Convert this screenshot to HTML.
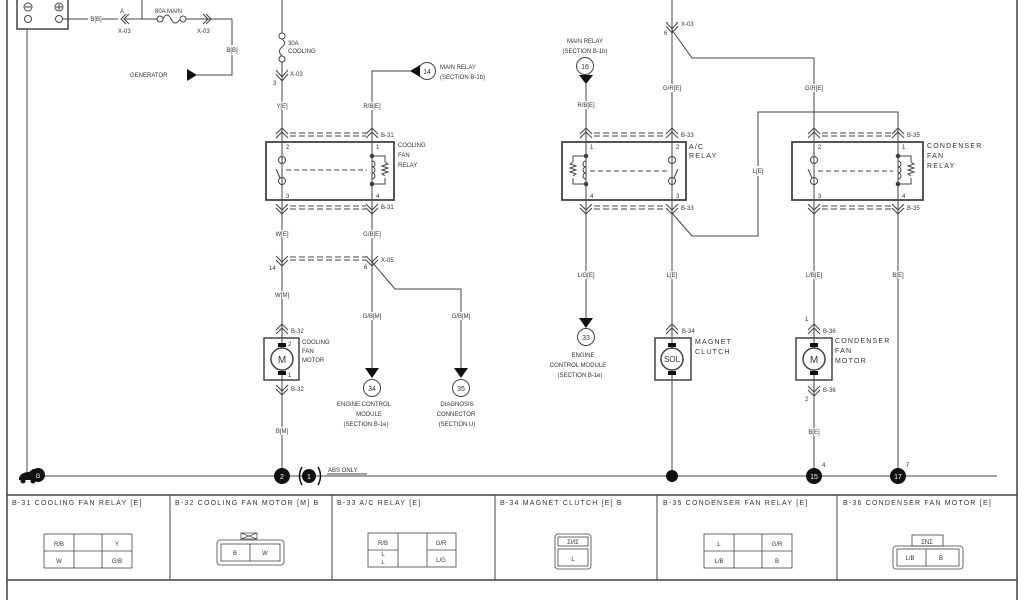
<!DOCTYPE html>
<html><head><meta charset="utf-8"><style>
html,body{margin:0;padding:0;background:#fff;width:1024px;height:600px;overflow:hidden}
svg{display:block}
text{font-family:"Liberation Sans",sans-serif;fill:#333}
.s{font-size:6px}
.m{font-size:7px}
.l{font-size:7.5px;letter-spacing:1px}
.h{font-size:7px;letter-spacing:1.2px}
</style></head><body>
<svg width="1024" height="600" viewBox="0 0 1024 600" xmlns="http://www.w3.org/2000/svg">
<g stroke="#444" fill="none" stroke-width="1">
<line x1="7" y1="0" x2="7" y2="600" stroke-width="1.5"/>
<line x1="1017" y1="0" x2="1017" y2="600" stroke-width="1.5"/>
<rect x="17" y="-2" width="51" height="31" stroke-width="1.5"/>
<circle cx="28" cy="7" r="4"/><line x1="25" y1="7" x2="31" y2="7"/>
<circle cx="59" cy="7" r="4"/><line x1="56" y1="7" x2="62" y2="7"/><line x1="59" y1="4" x2="59" y2="10"/>
<circle cx="28" cy="19" r="3.5"/><circle cx="59" cy="19" r="3.5"/>
<line x1="27" y1="29" x2="27" y2="476"/>
<line x1="62" y1="19" x2="88" y2="19"/><line x1="102" y1="19" x2="118" y2="19"/>
<polyline points="126,14 121,19 126,24"/><polyline points="129,14 124,19 129,24"/>
<line x1="124" y1="19" x2="157" y2="19"/>
<line x1="142" y1="0" x2="142" y2="19"/>
<circle cx="160" cy="19" r="3"/><circle cx="183" cy="19" r="3"/>
<path d="M163,19 q4,-8 8,0 q4,8 9,0"/>
<line x1="186" y1="19" x2="232" y2="19"/>
<polyline points="203,14 208,19 203,24"/><polyline points="206,14 211,19 206,24"/>
<polyline points="232,19 232,45"/><polyline points="232,55 232,75 197,75"/>
<line x1="282" y1="0" x2="282" y2="33"/>
<circle cx="282" cy="36" r="3"/><circle cx="282" cy="59" r="3"/>
<path d="M282,39 q5,4 0,8 q-5,4 0,9"/>
<line x1="282" y1="62" x2="282" y2="102"/>
<polyline points="276,70 282,77 288,70"/><polyline points="276,74 282,81 288,74"/>
<line x1="282" y1="110" x2="282" y2="230"/>
<line x1="282" y1="238" x2="282" y2="291"/>
<line x1="282" y1="299" x2="282" y2="427"/>
<line x1="282" y1="435" x2="282" y2="476"/>
<polyline points="420,71 372,71 372,102"/>
<line x1="372" y1="110" x2="372" y2="230"/>
<line x1="372" y1="238" x2="372" y2="312"/>
<line x1="372" y1="320" x2="372" y2="368"/>
<polyline points="372,262 395,289 461,289 461,312"/>
<line x1="461" y1="320" x2="461" y2="368"/>
<rect x="266" y="142" width="128" height="58" stroke-width="1.8"/>
<line x1="586" y1="83" x2="586" y2="101"/><line x1="586" y1="109" x2="586" y2="271"/><line x1="586" y1="279" x2="586" y2="318"/>
<line x1="672" y1="0" x2="672" y2="84"/><line x1="672" y1="92" x2="672" y2="271"/><line x1="672" y1="279" x2="672" y2="476"/>
<polyline points="666,22 672,29 678,22"/><polyline points="666,26 672,33 678,26"/>
<polyline points="672,30 692,58 814,58 814,84"/>
<line x1="814" y1="92" x2="814" y2="271"/><line x1="814" y1="279" x2="814" y2="428"/><line x1="814" y1="436" x2="814" y2="476"/>
<polyline points="672,213 692,236 758,236 758,176"/><polyline points="758,166 758,112 898,112 898,271"/>
<line x1="898" y1="279" x2="898" y2="476"/>
<rect x="562" y="142" width="124" height="58" stroke-width="1.8"/>
<rect x="792" y="142" width="131" height="58" stroke-width="1.8"/>
<line x1="35" y1="476" x2="997" y2="476"/>
<rect x="264" y="338" width="35" height="42" stroke-width="1.5"/>
<rect x="655" y="338" width="36" height="42" stroke-width="1.5"/>
<rect x="796" y="338" width="36" height="42" stroke-width="1.5"/>
<circle cx="282" cy="359" r="11" stroke-width="1.5" fill="#fff"/>
<circle cx="672" cy="359" r="11" stroke-width="1.5" fill="#fff"/>
<circle cx="814" cy="359" r="11" stroke-width="1.5" fill="#fff"/>
<circle cx="427" cy="71" r="8.5"/><circle cx="585" cy="66" r="8.5"/>
<circle cx="586" cy="337" r="8.5"/><circle cx="372" cy="388" r="8.5"/><circle cx="461" cy="388" r="8.5"/>
<line x1="7" y1="495" x2="1017" y2="495" stroke-width="1.5"/>
<line x1="7" y1="580" x2="1017" y2="580" stroke-width="1.5"/>
<line x1="170" y1="495" x2="170" y2="580"/><line x1="332" y1="495" x2="332" y2="580"/>
<line x1="495" y1="495" x2="495" y2="580"/><line x1="657" y1="495" x2="657" y2="580"/><line x1="837" y1="495" x2="837" y2="580"/>
<g stroke-width="0.8">
<rect x="44" y="534" width="88" height="34"/><line x1="74" y1="534" x2="74" y2="568"/><line x1="102" y1="534" x2="102" y2="568"/><line x1="44" y1="551" x2="132" y2="551"/>
<rect x="217" y="540" width="67" height="25" rx="3"/><rect x="221" y="544" width="59" height="17"/><line x1="250" y1="544" x2="250" y2="561"/>
<path d="M241,533 h16 v6 h-16 z M241,533 l16,6 M257,533 l-16,6"/>
<rect x="368" y="533" width="88" height="34"/><line x1="398" y1="533" x2="398" y2="567"/><line x1="427" y1="533" x2="427" y2="567"/><line x1="368" y1="550" x2="398" y2="550"/><line x1="427" y1="550" x2="456" y2="550"/>
<rect x="555" y="534" width="36" height="35" rx="3"/><rect x="558" y="549" width="30" height="17"/>
<rect x="558" y="537" width="30" height="9"/>
<rect x="704" y="534" width="88" height="34"/><line x1="734" y1="534" x2="734" y2="568"/><line x1="762" y1="534" x2="762" y2="568"/><line x1="704" y1="551" x2="792" y2="551"/>
<rect x="893" y="546" width="70" height="23" rx="3"/><rect x="897" y="549" width="62" height="17"/><line x1="926" y1="549" x2="926" y2="566"/>
<rect x="912" y="535" width="31" height="11"/>
</g>
</g>
<defs>
<g id="cT" stroke="#444" fill="none"><polyline points="-6,6 0,0 6,6"/><polyline points="-6,10 0,4 6,10"/></g>
<g id="cB" stroke="#444" fill="none"><polyline points="-6,0 0,6 6,0"/><polyline points="-6,4 0,10 6,4"/></g>
<g id="sw" stroke="#444" fill="none"><circle cx="0" cy="18" r="3.5"/><circle cx="0" cy="39" r="3.5"/><line x1="0" y1="0" x2="0" y2="14.5"/><line x1="0" y1="42.5" x2="0" y2="58"/><line x1="-2" y1="36" x2="-6" y2="27"/></g>
<g id="coil" stroke="#444" fill="none"><line x1="0" y1="0" x2="0" y2="14"/><line x1="0" y1="42" x2="0" y2="58"/><circle cx="0" cy="14" r="1.8" fill="#333"/><circle cx="0" cy="42" r="1.8" fill="#333"/><path d="M0,14 v5 a3,3 0 1 1 0,6 a3,3 0 1 1 0,6 a3,3 0 1 1 0,6 v5"/><polyline points="0,14 13,14 13,20"/><polyline points="0,42 13,42 13,36"/><path d="M13,20 l3,2 -6,2 6,2 -6,2 6,2 -6,2 3,2"/></g>
<g id="coilL" transform="scale(-1,1)"><use href="#coil"/></g>
</defs>
<use href="#sw" x="282" y="142"/><use href="#coil" x="372" y="142"/>
<line x1="286" y1="170" x2="367" y2="170" stroke="#444" stroke-dasharray="5,3"/>
<use href="#coilL" x="586" y="142"/><use href="#sw" x="672" y="142" transform="translate(1344,0) scale(-1,1)"/>
<line x1="590" y1="171" x2="668" y2="171" stroke="#444" stroke-dasharray="5,3"/>
<use href="#sw" x="814" y="142"/><use href="#coil" x="898" y="142"/>
<line x1="818" y1="171" x2="893" y2="171" stroke="#444" stroke-dasharray="5,3"/>
<g stroke="#444" fill="none" stroke-dasharray="6,3">
<line x1="290" y1="133" x2="366" y2="133"/><line x1="290" y1="136" x2="366" y2="136"/>
<line x1="290" y1="206" x2="366" y2="206"/><line x1="290" y1="209" x2="366" y2="209"/>
<line x1="290" y1="257" x2="366" y2="257"/><line x1="290" y1="260" x2="366" y2="260"/>
<line x1="594" y1="133" x2="666" y2="133"/><line x1="594" y1="136" x2="666" y2="136"/>
<line x1="594" y1="206" x2="666" y2="206"/><line x1="594" y1="209" x2="666" y2="209"/>
<line x1="822" y1="133" x2="892" y2="133"/><line x1="822" y1="136" x2="892" y2="136"/>
<line x1="822" y1="206" x2="892" y2="206"/><line x1="822" y1="209" x2="892" y2="209"/>
</g>
<use href="#cT" x="282" y="128"/><use href="#cT" x="372" y="128"/><use href="#cB" x="282" y="204"/><use href="#cB" x="372" y="204"/>
<use href="#cB" x="282" y="256"/><use href="#cB" x="372" y="256"/>
<use href="#cT" x="282" y="324"/><use href="#cB" x="282" y="385"/>
<use href="#cT" x="586" y="128"/><use href="#cT" x="672" y="128"/><use href="#cB" x="586" y="204"/><use href="#cB" x="672" y="204"/>
<use href="#cT" x="814" y="128"/><use href="#cT" x="898" y="128"/><use href="#cB" x="814" y="204"/><use href="#cB" x="898" y="204"/>
<use href="#cT" x="672" y="324"/><use href="#cT" x="814" y="324"/><use href="#cB" x="814" y="386"/>
<g fill="#111">
<polygon points="187,69 187,81 197,75"/>
<polygon points="410,71 420,65 420,77"/>
<polygon points="579,75 593,75 586,84"/>
<polygon points="579,318 593,318 586,328"/>
<polygon points="365,368 379,368 372,378"/>
<polygon points="454,368 468,368 461,378"/>
<rect x="278" y="343" width="8" height="4"/><rect x="278" y="371" width="8" height="4"/>
<rect x="668" y="343" width="8" height="4"/><rect x="668" y="371" width="8" height="4"/>
<rect x="810" y="343" width="8" height="4"/><rect x="810" y="371" width="8" height="4"/>
<circle cx="282" cy="476" r="8"/><circle cx="309" cy="476" r="7"/>
<circle cx="672" cy="476" r="6"/><circle cx="814" cy="476" r="8"/><circle cx="898" cy="476" r="8"/>
<circle cx="38" cy="475" r="7"/><path d="M19,478 q2,-6 10,-6 l4,-3 h4 v11 h-18 z"/>
<circle cx="23" cy="481" r="2.5"/><circle cx="33" cy="481" r="2.5"/>
</g>
<path d="M302,467 q-5,9 0,18 M318,467 q5,9 0,18" stroke="#111" stroke-width="1.5" fill="none"/>
<line x1="327" y1="474" x2="367" y2="474" stroke="#444"/>
<g text-anchor="middle">
<text x="282" y="479" class="m" style="fill:#fff">2</text><text x="309" y="479" class="m" style="fill:#fff">1</text>
<text x="814" y="479" class="m" style="fill:#fff">15</text><text x="898" y="479" class="m" style="fill:#fff">17</text>
<text x="38" y="478" class="s" style="fill:#fff">G</text>
</g>
<g text-anchor="middle">
<text x="282" y="363" style="font-size:10px">M</text><text x="814" y="363" style="font-size:10px">M</text><text x="672" y="362" style="font-size:8px">SOL</text>
<text x="427" y="74" class="m">14</text><text x="585" y="69" class="m">16</text><text x="586" y="340" class="m">33</text><text x="372" y="391" class="m">34</text><text x="461" y="391" class="m">35</text>
<text x="96" y="21" class="s">B[B]</text><text x="232" y="52" class="s">B[B]</text>
<text x="282" y="108" class="s">Y[E]</text><text x="372" y="108" class="s">R/B[E]</text>
<text x="282" y="236" class="s">W[E]</text><text x="372" y="236" class="s">G/B[E]</text>
<text x="282" y="297" class="s">W[M]</text><text x="372" y="318" class="s">G/B[M]</text><text x="461" y="318" class="s">G/B[M]</text>
<text x="282" y="433" class="s">B[M]</text>
<text x="586" y="107" class="s">R/B[E]</text><text x="672" y="90" class="s">G/R[E]</text><text x="814" y="90" class="s">G/R[E]</text>
<text x="758" y="173" class="s">L[E]</text>
<text x="586" y="277" class="s">L/G[E]</text><text x="672" y="277" class="s">L[E]</text><text x="814" y="277" class="s">L/B[E]</text><text x="898" y="277" class="s">B[E]</text>
<text x="814" y="434" class="s">B[E]</text>
<text x="585" y="43" class="s">MAIN RELAY</text><text x="585" y="53" class="s">(SECTION B-1b)</text>
<text x="364" y="406" class="s">ENGINE CONTROL</text><text x="369" y="416" class="s">MODULE</text><text x="366" y="426" class="s">(SECTION B-1e)</text>
<text x="457" y="406" class="s">DIAGNOSIS</text><text x="456" y="416" class="s">CONNECTOR</text><text x="457" y="426" class="s">(SECTION U)</text>
<text x="583" y="357" class="s">ENGINE</text><text x="578" y="367" class="s">CONTROL MODULE</text><text x="580" y="377" class="s">(SECTION B-1e)</text>
<text x="59" y="546" class="s">R/B</text><text x="117" y="546" class="s">Y</text><text x="59" y="563" class="s">W</text><text x="117" y="563" class="s">G/B</text>
<text x="235" y="555" class="s">B</text><text x="265" y="555" class="s">W</text>
<text x="383" y="545" class="s">R/B</text><text x="441" y="545" class="s">G/R</text><text x="383" y="556" class="s">L</text><text x="383" y="564" class="s">L</text><text x="441" y="562" class="s">L/G</text>
<text x="573" y="561" class="s">L</text>
<text x="719" y="546" class="s">L</text><text x="777" y="546" class="s">G/R</text><text x="719" y="563" class="s">L/B</text><text x="777" y="563" class="s">B</text>
<text x="910" y="560" class="s">L/B</text><text x="941" y="560" class="s">B</text>
<text x="927" y="544" class="s">ΣNΣ</text><text x="573" y="544" class="s">ΣИΣ</text>
</g>
<g class="s">
<text x="120" y="13" class="s">A</text><text x="118" y="33" class="s">X-03</text><text x="197" y="33" class="s">X-03</text>
<text x="155" y="13" class="s">80A MAIN</text>
<text x="288" y="45" class="s">30A</text><text x="288" y="53" class="s">COOLING</text>
<text x="290" y="76" class="s">X-03</text><text x="273" y="85" class="s">3</text>
<text x="440" y="69" class="s">MAIN RELAY</text><text x="440" y="79" class="s">(SECTION B-1b)</text>
<text x="381" y="137" class="s">B-31</text><text x="381" y="209" class="s">B-31</text><text x="381" y="262" class="s">X-05</text>
<text x="269" y="270" class="s">14</text><text x="364" y="269" class="s">6</text>
<text x="398" y="147" class="s">COOLING</text><text x="398" y="157" class="s">FAN</text><text x="398" y="167" class="s">RELAY</text>
<text x="286" y="149" class="s">2</text><text x="376" y="149" class="s">1</text><text x="286" y="198" class="s">3</text><text x="376" y="198" class="s">4</text>
<text x="291" y="333" class="s">B-32</text><text x="291" y="391" class="s">B-32</text>
<text x="288" y="346" class="s">2</text><text x="288" y="377" class="s">1</text>
<text x="302" y="344" class="s">COOLING</text><text x="302" y="353" class="s">FAN</text><text x="302" y="362" class="s">MOTOR</text>
<text x="130" y="77" class="s">GENERATOR</text>
<text x="328" y="472" class="s">ABS ONLY</text>
<text x="681" y="26" class="s">X-03</text><text x="664" y="35" class="s">6</text>
<text x="681" y="137" class="s">B-33</text><text x="681" y="210" class="s">B-33</text>
<text x="689" y="149" class="h">A/C</text><text x="689" y="158" class="h">RELAY</text>
<text x="590" y="149" class="s">1</text><text x="676" y="149" class="s">2</text><text x="590" y="198" class="s">4</text><text x="676" y="198" class="s">3</text>
<text x="907" y="137" class="s">B-35</text><text x="907" y="210" class="s">B-35</text>
<text x="927" y="148" class="h">CONDENSER</text><text x="927" y="158" class="h">FAN</text><text x="927" y="168" class="h">RELAY</text>
<text x="818" y="149" class="s">2</text><text x="902" y="149" class="s">1</text><text x="818" y="198" class="s">3</text><text x="902" y="198" class="s">4</text>
<text x="682" y="333" class="s">B-34</text><text x="695" y="344" class="h">MAGNET</text><text x="695" y="354" class="h">CLUTCH</text>
<text x="823" y="333" class="s">B-36</text><text x="823" y="392" class="s">B-36</text><text x="805" y="321" class="s">1</text><text x="805" y="401" class="s">2</text>
<text x="835" y="343" class="h">CONDENSER</text><text x="835" y="353" class="h">FAN</text><text x="835" y="363" class="h">MOTOR</text>
<text x="822" y="467" class="s">4</text><text x="906" y="467" class="s">7</text>
<text x="12" y="505" class="h">B-31 COOLING FAN RELAY [E]</text>
<text x="175" y="505" class="h">B-32 COOLING FAN MOTOR [M] B</text>
<text x="337" y="505" class="h">B-33 A/C RELAY [E]</text>
<text x="500" y="505" class="h">B-34 MAGNET CLUTCH [E] B</text>
<text x="663" y="505" class="h">B-35 CONDENSER FAN RELAY [E]</text>
<text x="843" y="505" class="h">B-36 CONDENSER FAN MOTOR [E]</text>
</g>
</svg>
</body></html>
